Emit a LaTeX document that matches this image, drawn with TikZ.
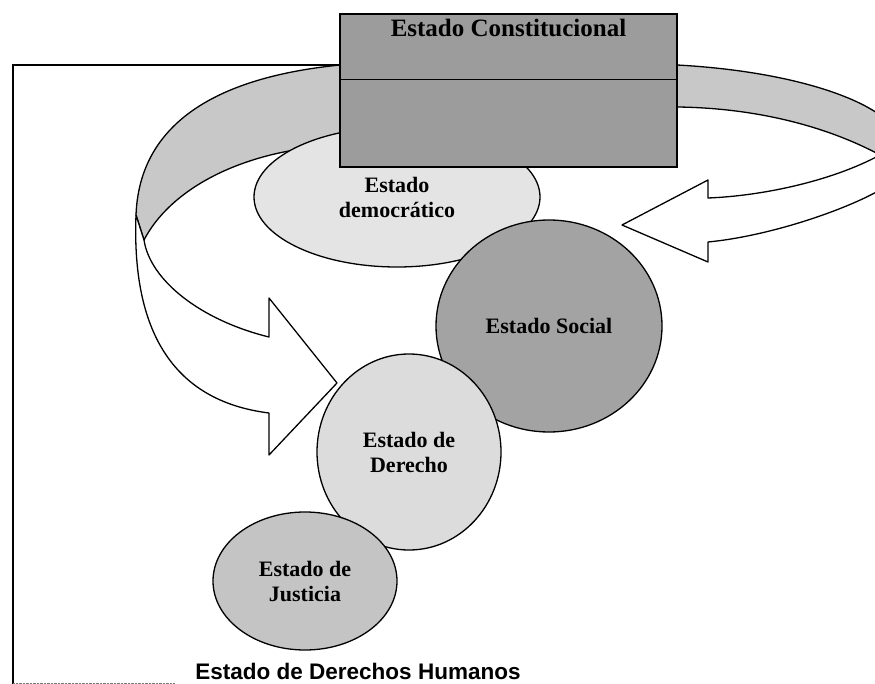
\documentclass[tikz,border=0pt]{standalone}
\usepackage{fontspec}
\setmainfont{Liberation Serif}
\newfontfamily\humanosfont{Liberation Sans}
\usetikzlibrary{shapes.geometric}

\tikzset{
  estado/.style={ellipse, draw, line width=1.3pt, align=center, inner sep=0pt,
    font=\fontsize{22}{25}\selectfont\bfseries},
  cinta/.style={draw, line width=1.3pt, line join=round},
}

\begin{document}
\begin{tikzpicture}[x=1pt,y=1pt,yscale=-1,xscale=1]
\useasboundingbox (0,0) rectangle (875,684);

%Frame
\draw [line width=1.1pt] (13,684) -- (13,65) -- (340,65) ;
\draw [densely dotted, color={rgb, 255:red, 120; green, 120; blue, 120 }] (13,683) -- (175,683) ;

%Left loop: back of the band
\draw [cinta, fill={rgb, 255:red, 200; green, 200; blue, 200 }] (340,65) .. controls (240,75) and (140,110) .. (136,215) -- (144,240) .. controls (170,190) and (240,150) .. (340,145) -- cycle ;
%Left loop: front of the band and head
\draw [cinta, fill=white] (136,215) .. controls (132,320) and (165,400) .. (269,413) -- (269,455) -- (337,383) -- (269,298) -- (269,337) .. controls (200,320) and (150,280) .. (144,240) -- cycle ;

%Right loop: back of the band
\draw [cinta, fill={rgb, 255:red, 200; green, 200; blue, 200 }] (677,65) .. controls (770,70) and (845,90) .. (880,115) -- (880,155) .. controls (830,128) and (760,108) .. (677,107) -- cycle ;
%Right loop: front of the band and head
\draw [cinta, fill=white] (880,155) .. controls (830,182) and (760,196) .. (708,198) -- (708,180) -- (622,225) -- (708,262) -- (708,242) .. controls (770,236) and (845,210) .. (880,190) -- cycle ;

%Estado democratico
\node (democratico) [estado, fill={rgb, 255:red, 228; green, 228; blue, 228 }, minimum width=286pt, minimum height=140pt] at (397,197) {Estado\\democrático};

%Estado Constitucional
\node (constitucional) [draw, line width=1.3pt, inner sep=0pt, fill={rgb, 255:red, 156; green, 156; blue, 156 }, minimum width=337pt, minimum height=153pt] at (508.5,90.5) {};
\draw [line width=1pt] (340,80) -- (677,80) ;
\node (titulo) [font=\fontsize{25}{28}\selectfont\bfseries] at (508.5,28) {Estado Constitucional};

%Estado Social
\node (social) [estado, fill={rgb, 255:red, 163; green, 163; blue, 163 }, minimum width=226pt, minimum height=212pt] at (549,326) {Estado Social};

%Estado de Derecho
\node (derecho) [estado, fill={rgb, 255:red, 220; green, 220; blue, 220 }, minimum width=184pt, minimum height=196pt] at (409,452) {Estado de\\Derecho};

%Estado de Justicia
\node (justicia) [estado, fill={rgb, 255:red, 196; green, 196; blue, 196 }, minimum width=184pt, minimum height=138pt] at (305,581) {Estado de\\Justicia};

%Estado de Derechos Humanos
\node (humanos) [font=\humanosfont\fontsize{22.5}{26}\selectfont\bfseries] at (358,671) {Estado de Derechos Humanos};

\end{tikzpicture}
\end{document}
